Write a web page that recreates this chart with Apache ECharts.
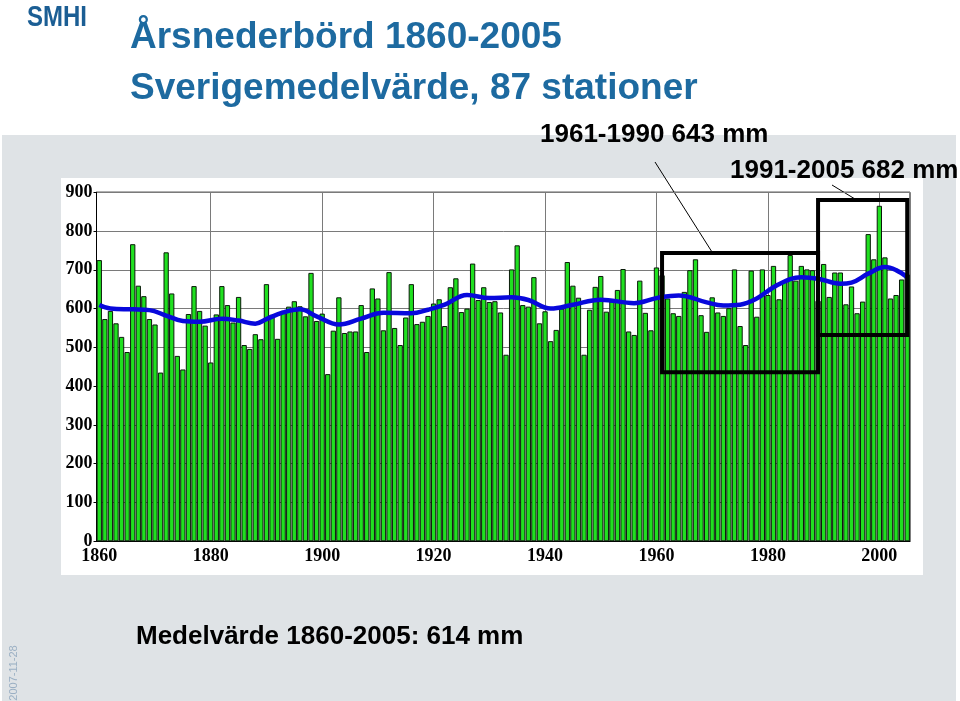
<!DOCTYPE html>
<html><head><meta charset="utf-8">
<script src="https://cdn.jsdelivr.net/npm/echarts@6/dist/echarts.min.js"></script>
<style>
html,body{margin:0;padding:0;background:#fff;overflow:hidden;}
#bg{position:absolute;left:2px;top:135px;width:954px;height:566px;background:#dfe3e6;}
#panel{position:absolute;left:61px;top:178px;width:862px;height:397px;background:#fff;}
#chart{position:absolute;left:0;top:0;width:960px;height:701px;}
</style></head><body>
<div id="bg"></div><div id="panel"></div><div id="chart"></div>
<script>
// ---- data ----
const startYear = 1860;
const precip = [
725,573,594,562,527,488,766,659,632,573, // 1860-1869
559,435,745,639,478,443,586,658,594,556, // 1870-1879
461,585,658,609,564,630,506,496,534,521, // 1880-1889
663,584,522,594,605,619,606,580,692,568, // 1890-1899
587,431,543,629,537,541,541,609,488,652, // 1900-1909
626,544,694,550,506,577,663,560,566,581, // 1910-1919
613,624,555,655,678,591,600,716,622,655, // 1920-1929
617,619,590,481,701,763,609,605,681,562, // 1930-1939
593,516,545,600,720,659,628,481,597,656, // 1940-1949
684,592,619,648,702,541,532,672,589,544, // 1950-1959
706,686,626,588,581,643,699,727,583,540, // 1960-1969
629,590,581,601,701,555,506,698,579,701, // 1970-1979
635,710,624,672,738,672,710,701,699,620, // 1980-1989
715,630,693,693,611,657,588,618,792,727, // 1990-1999
865,732,626,635,675,688                  // 2000-2005
];
const years = precip.map((v, i) => String(startYear + i));

// smoothed curve
const smoothYears  = [1860,1862,1866,1869,1872,1875,1878,1882,1885,1888,1890,1893,1896,1899,1903,1907,1911,1916,1919,1922,1926,1930,1934,1937,1941,1945,1950,1956,1960,1964,1969,1972,1975,1978,1981,1984,1986,1989,1993,1995,1998,2001,2003,2005];
const smoothValues = [609,600,598,596,582,568,566,574,569,561,573,590,598,580,559,574,589,588,597,610,635,627,629,622,600,610,623,614,627,634,616,608,610,626,655,676,681,677,664,667,690,707,699,681];

const gridYears = ['1880','1900','1920','1940','1960','1980','2000'];

// annotation boxes: [fromYear, topValue, toYear, bottomValue]
const boxes = [['1961',743,'1989',436],['1989',880,'2005',532]];

const smoothFull = years.map(y => {
  const k = smoothYears.indexOf(+y);
  return k >= 0 ? smoothValues[k] : null;
});

const chart = echarts.init(document.getElementById('chart'), null, {renderer:'canvas'});
const serif = 'Liberation Serif';
const sans = 'Liberation Sans';

chart.setOption({
  animation: false,
  backgroundColor: 'transparent',
  grid: {left: 96.5, top: 192.2, width: 813.5, height: 349.1, show: true,
         borderColor: '#000', borderWidth: 1, backgroundColor: '#fff'},
  xAxis: {
    type: 'category', data: years, boundaryGap: true,
    axisLine: {lineStyle: {color: '#000', width: 1}},
    axisTick: {show: false},
    axisLabel: {interval: 19, fontFamily: serif, fontSize: 18, fontWeight: 'bold', color: '#000', margin: 6},
    splitLine: {show: false}
  },
  yAxis: {
    type: 'value', min: 0, max: 900, interval: 100,
    axisLine: {show: true, lineStyle: {color: '#000', width: 1}},
    axisTick: {show: true, length: 3, lineStyle: {color: '#000'}},
    axisLabel: {fontFamily: serif, fontSize: 18, fontWeight: 'bold', color: '#000', margin: 4},
    splitLine: {show: true, lineStyle: {color: '#7a7a7a', width: 1}}
  },
  series: [
    {type: 'line', data: [], z: 0, silent: true,
     markLine: {z: 0, silent: true, symbol: 'none', label: {show: false},
       lineStyle: {color: '#7a7a7a', width: 1, type: 'solid'},
       data: gridYears.map(y => ({xAxis: y}))}},
    {type: 'bar', data: precip, barCategoryGap: '5%', z: 2,
     itemStyle: {color: '#20e020', borderColor: '#0a1a0a', borderWidth: 1}},
    {type: 'line', data: smoothFull, connectNulls: true, smooth: 0.4, symbol: 'none', showSymbol: false, z: 3,
     lineStyle: {color: '#0808dc', width: 4.5}},
    {type: 'line', data: [], z: 10, silent: true,
     markArea: {z: 10, silent: true, label: {show: false},
       itemStyle: {color: 'rgba(0,0,0,0)', borderColor: '#000', borderWidth: 4},
       data: boxes.map(b => [{xAxis: b[0], yAxis: b[1]}, {xAxis: b[2], yAxis: b[3]}])}}
  ],
  graphic: [
    {type: 'text', x: 27, y: 3, scaleX: 0.8, style: {text: 'SMHI', font: 'bold 30px ' + sans, fill: '#1b5e94', textVerticalAlign: 'top'}},
    {type: 'text', x: 130, y: 37.5, style: {text: 'Årsnederbörd 1860-2005', font: 'bold 37px ' + sans, fill: '#1d6aa0', textVerticalAlign: 'middle'}},
    {type: 'text', x: 130, y: 89, style: {text: 'Sverigemedelvärde, 87 stationer', font: 'bold 37px ' + sans, fill: '#1d6aa0', textVerticalAlign: 'middle'}},
    {type: 'text', x: 540, y: 135, style: {text: '1961-1990 643 mm', font: 'bold 26px ' + sans, fill: '#000', textVerticalAlign: 'middle'}},
    {type: 'text', x: 730, y: 171, style: {text: '1991-2005 682 mm', font: 'bold 26px ' + sans, fill: '#000', textVerticalAlign: 'middle'}},
    {type: 'text', x: 136, y: 637, style: {text: 'Medelvärde 1860-2005: 614 mm', font: 'bold 26px ' + sans, fill: '#000', textVerticalAlign: 'middle'}},
    {type: 'text', x: 14, y: 673, rotation: Math.PI / 2, style: {text: '2007-11-28', font: '11px ' + sans, fill: '#9bb0c4', textAlign: 'center', textVerticalAlign: 'middle'}},
    {type: 'line', shape: {x1: 655, y1: 162, x2: 712, y2: 252}, style: {stroke: '#000', lineWidth: 1}},
    {type: 'line', shape: {x1: 832, y1: 185, x2: 855, y2: 199}, style: {stroke: '#000', lineWidth: 1}}
  ]
});
</script>
</body></html>
